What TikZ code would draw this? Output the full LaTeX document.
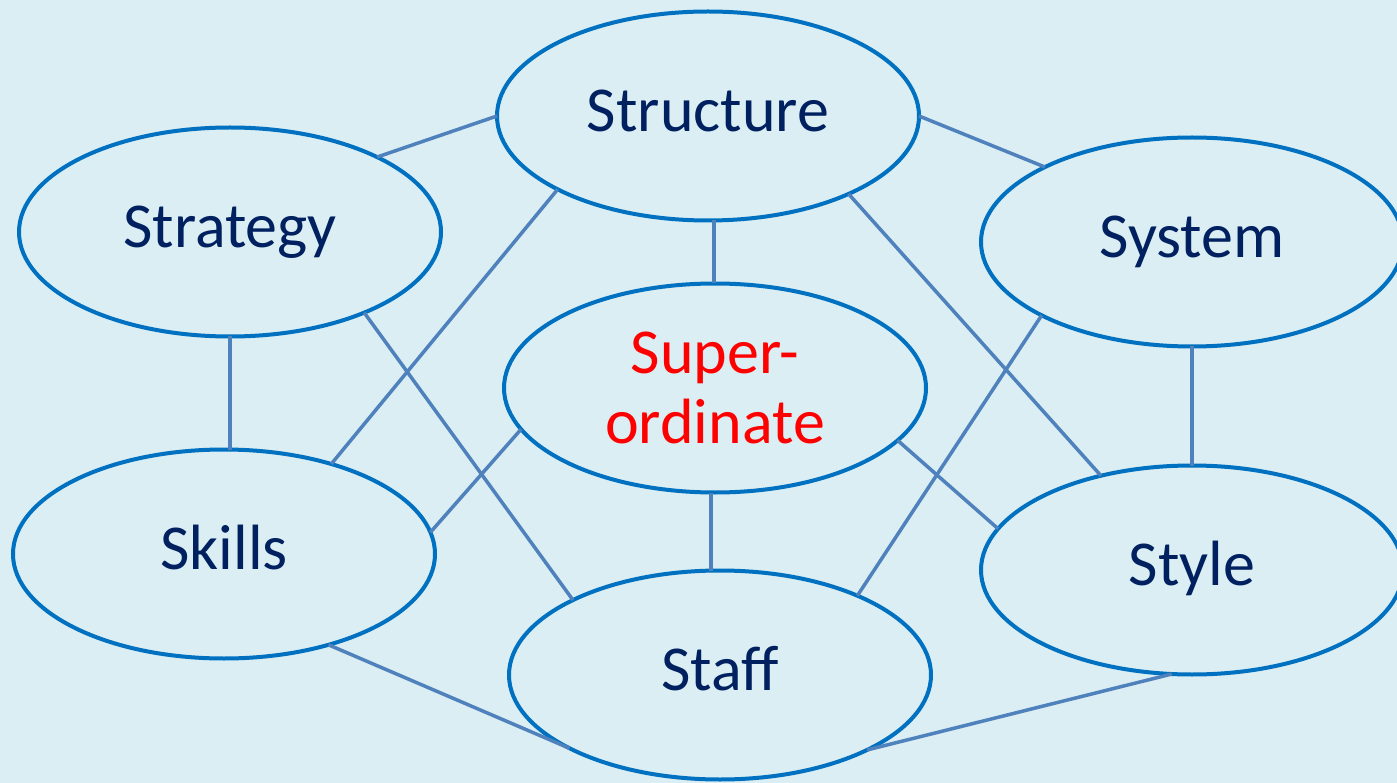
\documentclass[tikz,border=0pt]{standalone}
\usepackage{fontspec}
\setmainfont{Carlito}
\usetikzlibrary{shapes.geometric}
\definecolor{bgc}{HTML}{DAEEF3}
\definecolor{ellc}{HTML}{0070C0}
\definecolor{linec}{HTML}{4F81BD}
\definecolor{txtc}{HTML}{002060}
\definecolor{redc}{HTML}{FF0000}
\tikzset{
  ell/.style={ellipse, draw=ellc, line width=4pt, fill=bgc, minimum width=422pt, minimum height=209pt,
    inner sep=0pt, outer sep=0pt, text=txtc, font=\fontsize{64}{70}\selectfont},
  onel/.style={ell, text height=47pt, text depth=16pt},
  conn/.style={draw=linec, line width=3.5pt}
}
\begin{document}
\begin{tikzpicture}[x=1pt, y=-1pt]
\fill[bgc] (0,0) rectangle (1397,783);
\useasboundingbox (0,0) rectangle (1397,783);
\node[onel] (S) at (708,116) {Structure};
\node[onel] (G) at (230,232) {Strategy};
\node[onel] (Y) at (1192,242) {System};
\node[ell, align=center, text=redc] (P) at (715,388) {Super-\\ordinate};
\node[onel] (K) at (224,554) {Skills};
\node[onel] (T) at (1192,570) {Style};
\node[onel] (F) at (720,675) {Staff};
% connectors
\draw[conn] (S.180) -- (G.27);
\draw[conn] (S.0) -- (Y.153.3);
\draw[conn] ([xshift=-1pt]P.north) -- ([xshift=-1pt]P.north |- S.south);
\draw[conn] (S.206.6) -- (K.40.6);
\draw[conn] (S.331.2) -- (T.134.4);
\draw[conn] (G.south) -- (G.south |- K.north);
\draw[conn] (G.329.3) -- (F.153.6);
\draw[conn] (Y.south) -- (T.north);
\draw[conn] (Y.206.4) -- (F.30.1);
\draw[conn] (P.192.9) -- (K.6);
\draw[conn] (P.344.9) -- (T.168.8);
\draw[conn] ([xshift=-4pt]P.south) -- ([xshift=-4pt]P.south |- F.north);
\draw[conn] (K.319.8) -- (F.206.6);
\draw[conn] (T.259.8) -- (F.333.5);
\end{tikzpicture}
\end{document}
